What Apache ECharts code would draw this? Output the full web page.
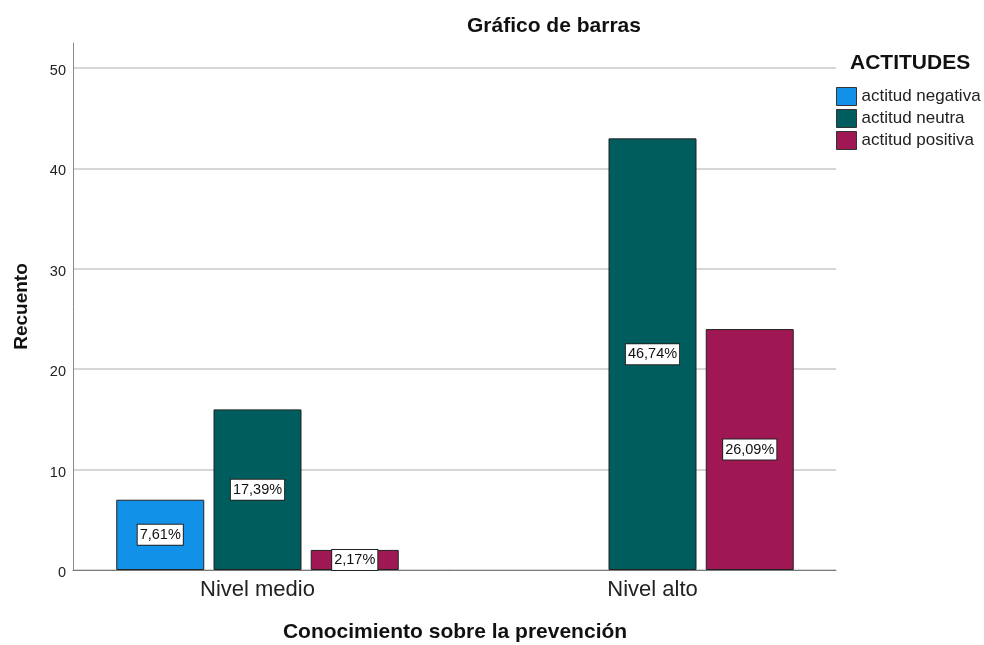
<!DOCTYPE html>
<html><head><meta charset="utf-8">
<script src="https://cdn.jsdelivr.net/npm/echarts@6/dist/echarts.min.js"></script>
<style>html,body{margin:0;padding:0;background:#fff}#c{width:984px;height:645px}</style>
</head><body><div id="c"></div>
<script>
const categories = ['Nivel medio', 'Nivel alto'];
const seriesNames = ['actitud negativa', 'actitud neutra', 'actitud positiva'];
const negativa = [7, null];
const neutra = [16, 43];
const positiva = [2, 24];
const negativaPct = ['7,61%', ''];
const neutraPct = ['17,39%', '46,74%'];
const positivaPct = ['2,17%', '26,09%'];
const yMin = 0, yMaxTick = 50, yTop = 52.5, yStep = 10;

const colors = ['#1192e8', '#005d5d', '#9f1853'];
const FONT = 'Liberation Sans, Arial, sans-serif';
const chart = echarts.init(document.getElementById('c'));

function mk(name, data, pct, color) {
  return {
    name: name, type: 'bar', xAxisIndex: 1, yAxisIndex: 1,
    data: data, barWidth: 88, barGap: '10.5%',
    itemStyle: { color: color, borderColor: '#222', borderWidth: 1 },
    label: {
      show: true, position: 'inside',
      formatter: p => pct[p.dataIndex],
      color: '#111', fontFamily: FONT, fontSize: 14.5,
      backgroundColor: '#fff', borderColor: '#222', borderWidth: 1,
      padding: [3, 2, 2, 2]
    },
    emphasis: { disabled: true }
  };
}

chart.setOption({
  animation: false,
  textStyle: { fontFamily: FONT },
  title: {
    text: 'Gráfico de barras', left: 467, top: 16, padding: 0,
    textStyle: { fontFamily: FONT, fontSize: 21, fontWeight: 'bold', color: '#111' }
  },
  legend: {
    data: seriesNames, orient: 'vertical', left: 836, top: 87, padding: 0,
    icon: 'rect', itemWidth: 20, itemHeight: 18, itemGap: 3,
    textStyle: { fontFamily: FONT, fontSize: 17, color: '#222' },
    itemStyle: { borderColor: '#333', borderWidth: 1 }
  },
  graphic: [{
    type: 'text', left: 850, top: 53,
    style: { text: 'ACTITUDES', font: 'bold 21px ' + FONT, fill: '#111' }
  }],
  grid: [
    { left: 73, right: 148, top: 68, bottom: 75, outerBoundsMode: 'none' },
    { left: 60, right: 134, top: 43, bottom: 75, outerBoundsMode: 'none' },
    { left: 73, right: 148, top: 43, bottom: 75, outerBoundsMode: 'none' }
  ],
  xAxis: [
    { gridIndex: 0, type: 'value', min: 0, max: 1, show: false },
    { gridIndex: 1, type: 'category', data: categories,
      axisLine: { show: false }, axisTick: { show: false },
      axisLabel: { fontFamily: FONT, fontSize: 22, color: '#222', margin: 9 },
      name: 'Conocimiento sobre la prevención', nameLocation: 'middle', nameGap: 52,
      nameTextStyle: { fontFamily: FONT, fontSize: 21, fontWeight: 'bold', color: '#111' } },
    { gridIndex: 2, type: 'value', min: 0, max: 1, axisLabel: { show: false }, axisTick: { show: false },
      splitLine: { show: false }, axisLine: { show: true, lineStyle: { color: '#7a7a7a', width: 1 } } }
  ],
  yAxis: [
    { gridIndex: 0, type: 'value', min: yMin, max: yMaxTick, interval: yStep,
      axisLine: { show: false }, axisTick: { show: false },
      axisLabel: { fontFamily: FONT, fontSize: 14.5, color: '#222', margin: 7,
        verticalAlign: 'top', lineHeight: 6 },
      splitLine: { show: true, lineStyle: { color: '#c8c8c8', width: 1.5 } } },
    { gridIndex: 1, type: 'value', min: yMin, max: yTop, show: false, splitLine: { show: false } },
    { gridIndex: 2, type: 'value', min: yMin, max: yTop,
      axisLine: { show: true, lineStyle: { color: '#8a8a8a', width: 1 } },
      axisTick: { show: false }, axisLabel: { show: false }, splitLine: { show: false },
      name: 'Recuento', nameLocation: 'middle', nameGap: 42,
      nameTextStyle: { fontFamily: FONT, fontSize: 19, fontWeight: 'bold', color: '#111' } }
  ],
  series: [
    mk(seriesNames[0], negativa, negativaPct, colors[0]),
    mk(seriesNames[1], neutra, neutraPct, colors[1]),
    mk(seriesNames[2], positiva, positivaPct, colors[2])
  ]
});
</script></body></html>
